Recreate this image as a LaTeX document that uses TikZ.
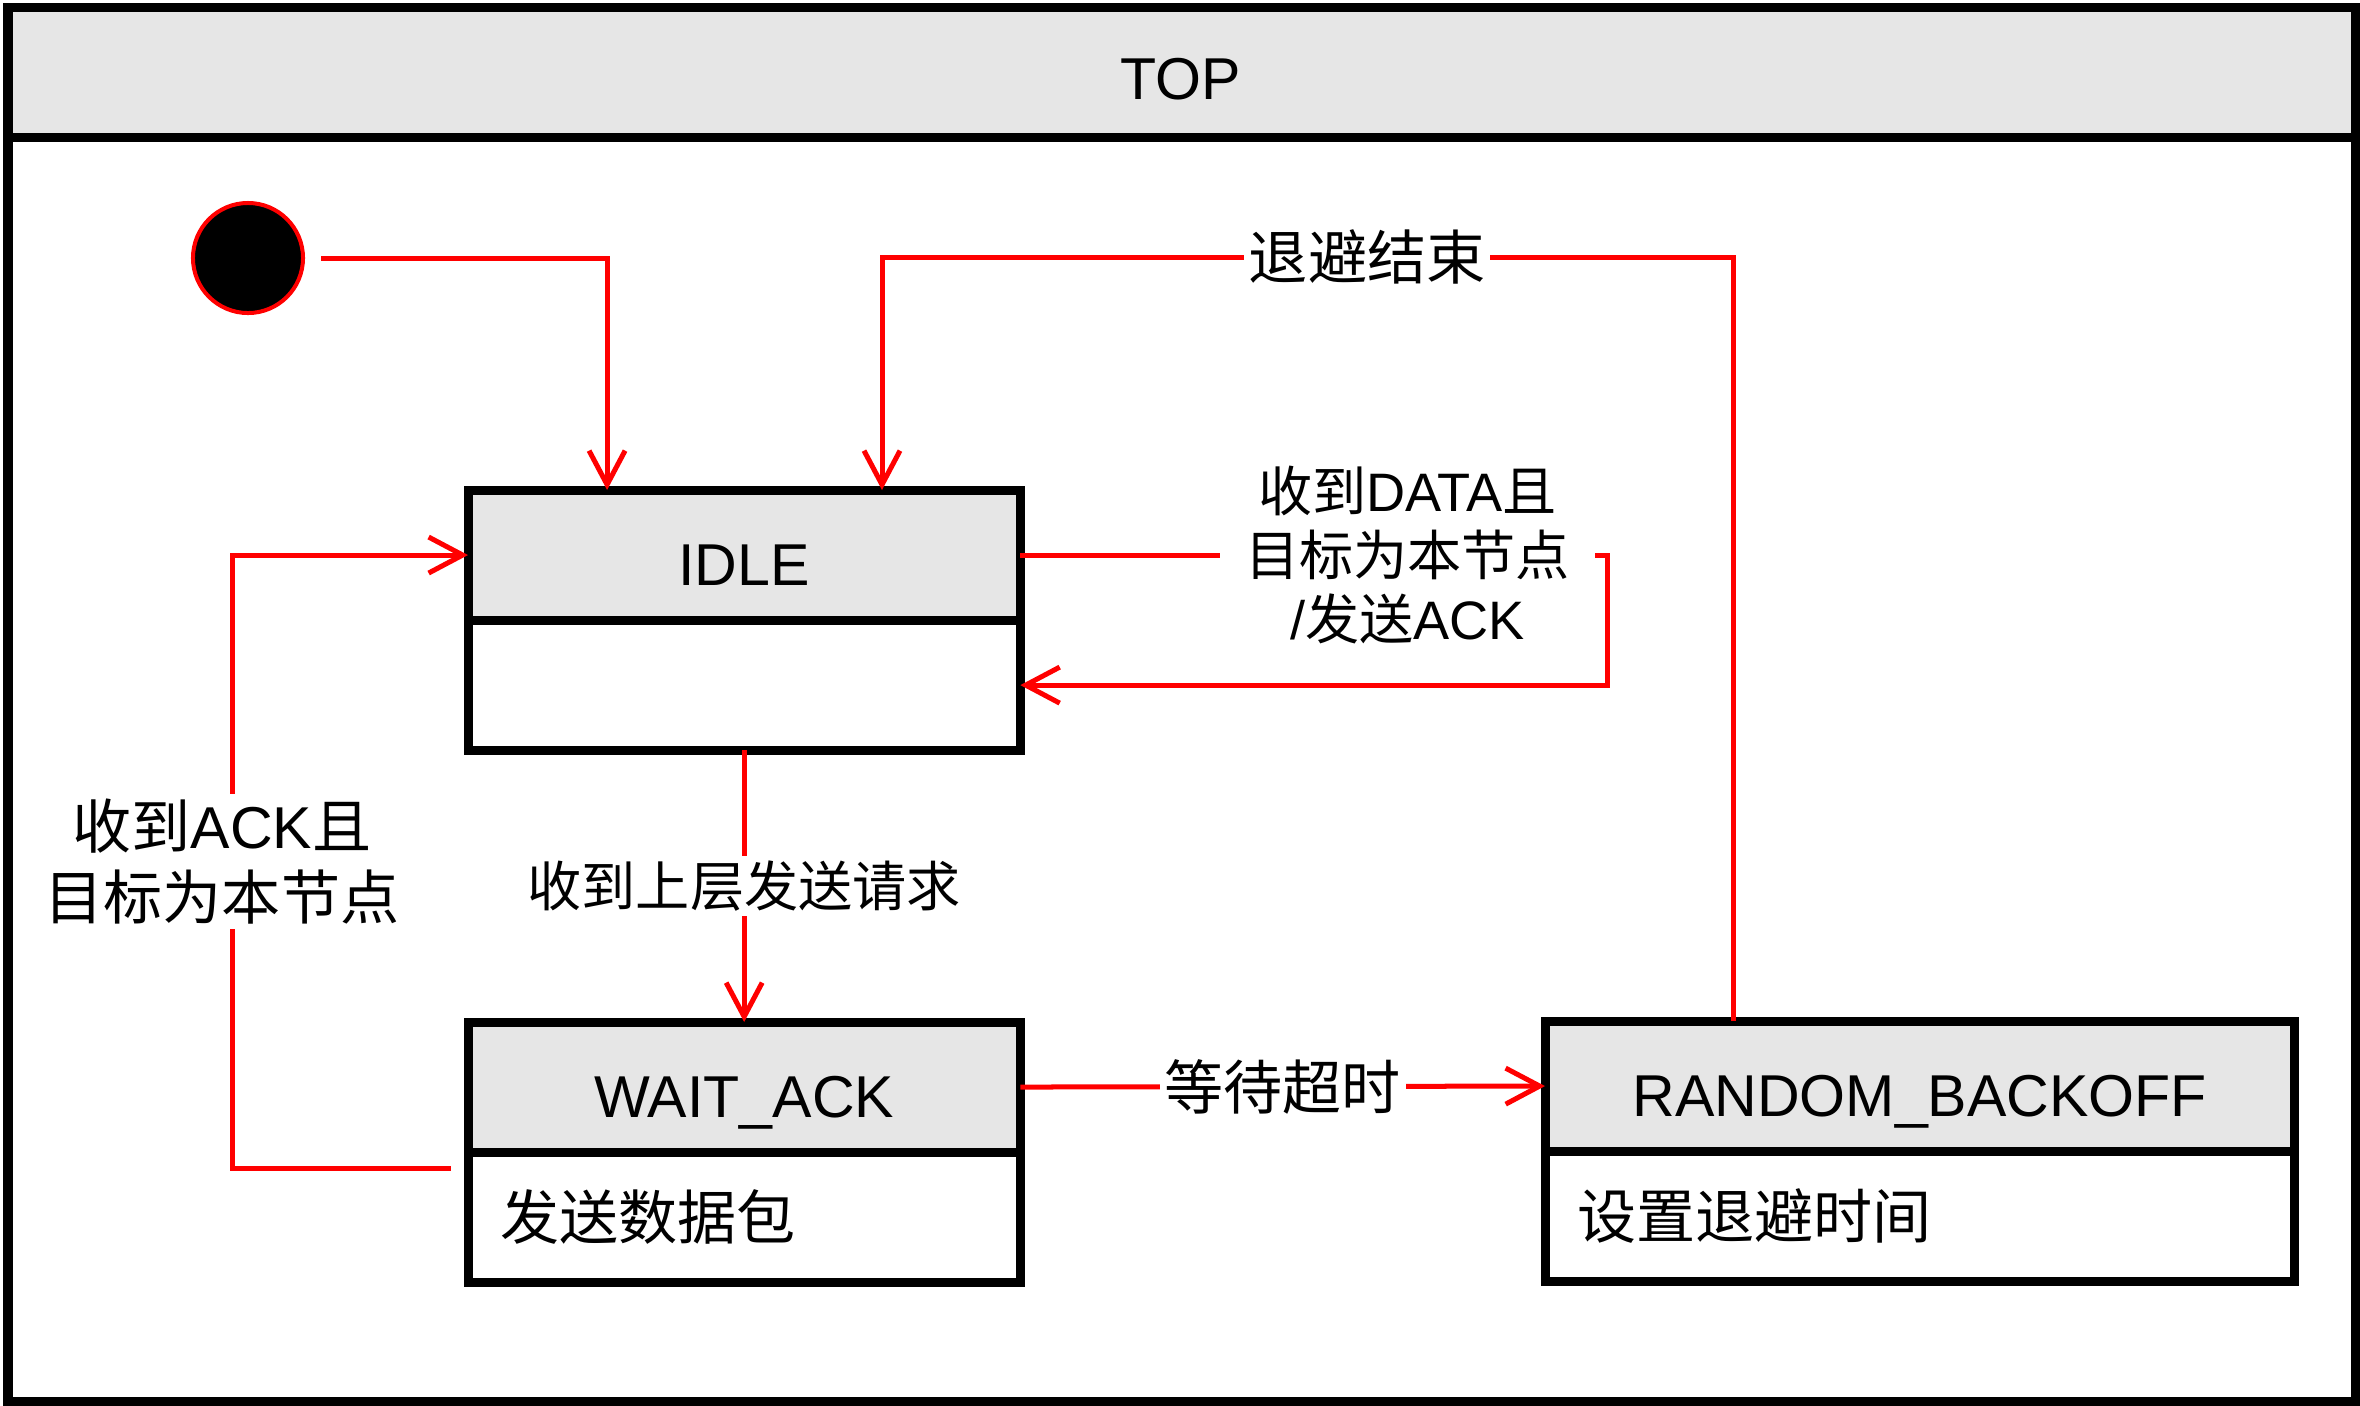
\documentclass[tikz,border=0pt]{standalone}
\usepackage{fontspec}
\setmainfont{Liberation Sans}
\newfontfamily\cjk{Noto Sans CJK SC}
\usetikzlibrary{positioning,arrows.meta}
\definecolor{headgray}{HTML}{E6E6E6}

\begin{document}
\begin{tikzpicture}[x=0.01cm, y=-0.01cm,
    every node/.style={font=\fontsize{16.8pt}{20pt}\selectfont},
    box/.style={draw, line width=0.09cm, outer sep=0pt, inner sep=0pt},
    statehead/.style={box, fill=headgray, minimum height=1.30cm, text height=0.60cm, text depth=0cm},
    statebody/.style={box, fill=white, minimum height=1.30cm, inner xsep=0.32cm, align=left},
    trans/.style={draw=red, line width=0.05cm, -{Straight Barb[length=0.34cm,width=0.36cm]}},
    cond/.style={fill=white, inner sep=0.05cm, align=center}]
    \useasboundingbox (0,0) rectangle (2360,1405);
    % frame
    \draw[line width=0.09cm, fill=headgray] (8,7.5) rectangle (2355,137);
    \draw[line width=0.09cm] (8,137) rectangle (2355,1401);
    \node[text height=0.54cm, text depth=0cm] (top) at (1181,72) {TOP};
    % states
    \node[circle, draw=red, fill=black, line width=0.04cm, minimum size=1.1cm, inner sep=0pt] (init) at (248,258) {};
    \node[statehead, minimum width=5.52cm, anchor=north west] (idlehead) at (468,490) {IDLE};
    \node[statebody, below=0pt of idlehead, text width=4.88cm] (idlebody) {};
    \node[statehead, minimum width=5.52cm, anchor=north west] (waithead) at (468,1022) {WAIT\_ACK};
    \node[statebody, below=0pt of waithead, text width=4.88cm] (waitbody) {{\cjk 发送数据包}};
    \node[statehead, minimum width=7.49cm, anchor=north west] (rbhead) at (1545,1021) {RANDOM\_BACKOFF};
    \node[statebody, below=0pt of rbhead, text width=6.85cm] (rbbody) {{\cjk 设置退避时间}};
    % transitions
    \draw[trans, shorten <=0.16cm] (init.east) -| ([xshift=1.39cm]idlehead.north west);
    \coordinate (backoffup) at (1733,257);
    \coordinate (backoffdown) at (882,257);
    \draw[trans] (backoffup |- rbhead.north) -- (backoffup)
      -- node[cond, pos=0.43] {{\cjk 退避结束}} (backoffdown) -- (backoffdown |- idlehead.north);
    \draw[trans] (idlebody.south)
      -- node[cond, font=\fontsize{15.4pt}{18pt}\selectfont] {{\cjk 收到上层发送请求}} (waithead.north);
    \draw[trans] (waithead.east) -- node[cond] {{\cjk 等待超时}} (rbhead.west);
    \coordinate (ackleft) at (232,557);
    \draw[trans, shorten <=0.17cm] ([yshift=-0.16cm]waitbody.north west)
      -| node[cond, pos=0.75, xshift=-0.1cm] {{\cjk 收到}ACK{\cjk 且}\\{\cjk 目标为本节点}} (ackleft |- idlehead.west)
      -- (idlehead.west);
    \coordinate (dataright) at (1607,620);
    \draw[trans] (idlehead.east)
      -| node[cond, pos=0.33, inner xsep=0.25cm, font=\fontsize{15.4pt}{18.2pt}\selectfont]
        {{\cjk 收到}DATA{\cjk 且}\\{\cjk 目标为本节点}\\/{\cjk 发送}ACK} (dataright)
      |- (idlebody.east);
\end{tikzpicture}
\end{document}
